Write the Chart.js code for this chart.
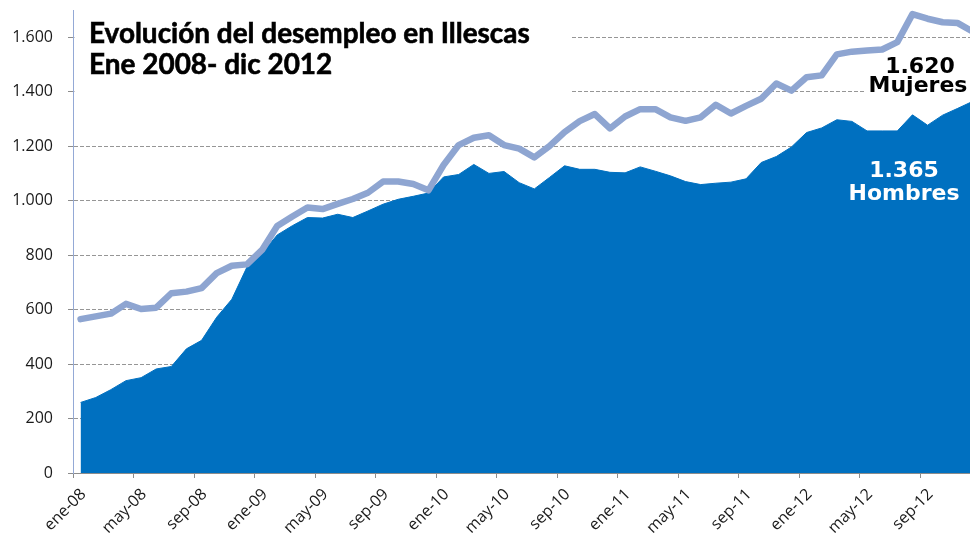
<!DOCTYPE html>
<html lang="es">
<head>
<meta charset="utf-8">
<title>Evolución del desempleo en Illescas</title>
<script src="https://cdn.jsdelivr.net/npm/chart.js@4.4.1/dist/chart.umd.min.js"></script>
<style>
  html, body { margin: 0; padding: 0; background: #fff; overflow: hidden; }
  #wrap { position: relative; width: 990px; height: 542px; }
</style>
</head>
<body>
<div id="wrap"><canvas id="chart" width="990" height="542"></canvas></div>
<script>
// Datos: paro registrado en Illescas, ene 2008 - dic 2012
const meses = ['ene', 'feb', 'mar', 'abr', 'may', 'jun', 'jul', 'ago', 'sep', 'oct', 'nov', 'dic'];
const anios = ['08', '09', '10', '11', '12'];
const categorias = anios.flatMap(a => meses.map(m => `${m}-${a}`));

const hombres = [
  259, 277, 306, 339, 350, 382, 391, 456, 487, 572, 638, 756,
  807, 874, 908, 938, 936, 950, 938, 962, 987, 1005, 1016, 1028,
  1087, 1096, 1133, 1100, 1107, 1066, 1043, 1085, 1128, 1115, 1115, 1104,
  1102, 1124, 1108, 1091, 1070, 1059, 1064, 1068, 1080, 1140, 1162, 1197,
  1250, 1267, 1297, 1291, 1256, 1256, 1256, 1315, 1277, 1314, 1339, 1365
];
const mujeres = [
  565, 575, 585, 621, 602, 607, 660, 666, 679, 734, 761, 766,
  819, 907, 942, 975, 969, 988, 1006, 1029, 1070, 1070, 1061, 1038,
  1131, 1204, 1231, 1240, 1204, 1191, 1159, 1200, 1252, 1292, 1318, 1265,
  1309, 1336, 1336, 1306, 1293, 1306, 1352, 1320, 1348, 1374, 1430, 1404,
  1453, 1460, 1537, 1547, 1551, 1555, 1582, 1685, 1668, 1655, 1652, 1620
];

const ticksY = { min: 0, max: 1700, step: 200 };
const titulo = ['Evolución del desempleo en Illescas', 'Ene 2008- dic 2012'];
const etiquetaMujeres = ['1.620', 'Mujeres'];
const etiquetaHombres = ['1.365', 'Hombres'];

const AZUL = '#0070C0';
const AZUL_CLARO = '#8EA5D1';
const GRIS = '#8c8c8c';
const FUENTE_EJES = "'Open Sans', 'DejaVu Sans', sans-serif";

const formatMiles = v => String(v).replace(/\B(?=(\d{3})+(?!\d))/g, '.');

// fondos blancos de los cuadros de texto y rótulos
const anotaciones = {
  id: 'anotaciones',
  beforeDatasetsDraw(chart) {
    const { ctx } = chart;
    ctx.save();
    ctx.fillStyle = '#fff';
    ctx.fillRect(74.5, 14, 497, 86);
    ctx.fillRect(866, 56, 130, 41);
    ctx.restore();
  },
  afterDatasetsDraw(chart) {
    const { ctx } = chart;
    ctx.save();

    // título ajustado al ancho del original (un poco de trazo para engrosarlo)
    ctx.fillStyle = '#000';
    ctx.strokeStyle = '#000';
    ctx.lineWidth = 0.6;
    ctx.textAlign = 'left';
    ctx.textBaseline = 'alphabetic';
    ctx.font = "bold 24px Lato, 'Open Sans', sans-serif";
    const size = 24 * 441 / ctx.measureText(titulo[0]).width;
    ctx.font = `bold ${size.toFixed(2)}px Lato, 'Open Sans', sans-serif`;
    titulo.forEach((linea, i) => {
      ctx.fillText(linea, 89, 43 + i * 31);
      ctx.strokeText(linea, 89, 43 + i * 31);
    });

    ctx.font = "bold 22px 'DejaVu Sans', sans-serif";
    ctx.textAlign = 'center';
    ctx.fillStyle = '#000';
    ctx.fillText(etiquetaMujeres[0], 920, 73);
    ctx.fillText(etiquetaMujeres[1], 918, 91.5);

    ctx.fillStyle = '#fff';
    ctx.fillText(etiquetaHombres[0], 904, 177);
    ctx.fillText(etiquetaHombres[1], 904, 199.5);
    ctx.restore();
  }
};

new Chart(document.getElementById('chart'), {
  type: 'line',
  data: {
    labels: categorias,
    datasets: [
      {
        label: 'Mujeres',
        data: mujeres,
        borderColor: AZUL_CLARO,
        borderWidth: 6.5,
        borderCapStyle: 'round',
        borderJoinStyle: 'round',
        pointRadius: 0,
        tension: 0,
        fill: false
      },
      {
        label: 'Hombres',
        data: hombres,
        borderColor: AZUL,
        backgroundColor: AZUL,
        borderWidth: 1,
        pointRadius: 0,
        tension: 0,
        fill: 'origin'
      }
    ]
  },
  options: {
    responsive: false,
    devicePixelRatio: 1,
    animation: false,
    layout: { padding: { top: 10, right: 9.5, left: 0, bottom: 0 } },
    plugins: {
      legend: { display: false },
      tooltip: { enabled: false }
    },
    scales: {
      x: {
        offset: true,
        grid: {
          offset: true,
          drawOnChartArea: false,
          drawTicks: true,
          tickLength: 5,
          color: ctx => ctx.index % 4 === 0 ? GRIS : 'transparent'
        },
        border: { color: GRIS, width: 1 },
        ticks: {
          autoSkip: false,
          minRotation: 45,
          maxRotation: 45,
          padding: 7,
          labelOffset: 3,
          color: '#1a1a1a',
          font: { family: FUENTE_EJES, size: 16 },
          callback: (v, i) => i % 4 === 0 ? categorias[i] : ''
        },
        afterFit: s => {
          s.height = 69;
          s.paddingLeft = 0;
          s.paddingRight = 0;
        }
      },
      y: {
        min: ticksY.min,
        max: ticksY.max,
        grid: {
          color: ctx => ctx.tick && ctx.tick.value === 0 ? 'transparent' : '#969696',
          tickColor: GRIS,
          tickLength: 5,
          tickBorderDash: []
        },
        border: { color: '#94A9D6', width: 1, dash: [4, 2] },
        ticks: {
          stepSize: ticksY.step,
          includeBounds: false,
          padding: 15,
          color: '#1a1a1a',
          font: { family: FUENTE_EJES, size: 16 },
          callback: v => formatMiles(v)
        },
        afterFit: s => {
          s.width = 73;
          s.paddingTop = 0;
          s.paddingBottom = 0;
        }
      }
    }
  },
  plugins: [anotaciones]
});
</script>
</body>
</html>
